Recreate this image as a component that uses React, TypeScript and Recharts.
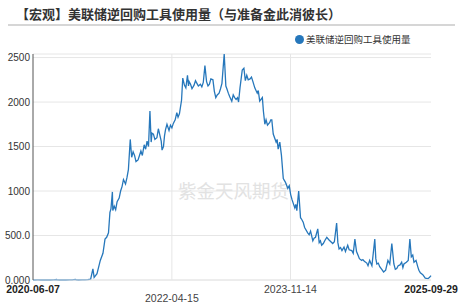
import { CartesianGrid, Line, LineChart, ReferenceLine, XAxis, YAxis } from "recharts";

const FONT = 'Arial, "Liberation Sans", "Noto Sans CJK SC", sans-serif';
const BLUE = "#2677bb";

const title = "【宏观】美联储逆回购工具使用量（与准备金此消彼长）";
const seriesName = "美联储逆回购工具使用量";
const watermark = "紫金天风期货";

// one row per month in both arrays
const dates = [
  "2020-06-07", "2020-06-15",
  "2020-07-01", "2020-07-15",
  "2020-08-01", "2020-08-15",
  "2020-09-01", "2020-09-15", "2020-09-30",
  "2020-10-01", "2020-10-15",
  "2020-11-01", "2020-11-15",
  "2020-12-01", "2020-12-15", "2020-12-31",
  "2021-01-04", "2021-01-15",
  "2021-02-01", "2021-02-15",
  "2021-03-01", "2021-03-15", "2021-03-26",
  "2021-04-01", "2021-04-15",
  "2021-05-01", "2021-05-14", "2021-05-24",
  "2021-06-01", "2021-06-10", "2021-06-17", "2021-06-22", "2021-06-29",
  "2021-07-01", "2021-07-08", "2021-07-15", "2021-07-22",
  "2021-08-01", "2021-08-08", "2021-08-15", "2021-08-22",
  "2021-09-01", "2021-09-08", "2021-09-15", "2021-09-24",
  "2021-10-01", "2021-10-08", "2021-10-15", "2021-10-22",
  "2021-11-01", "2021-11-08", "2021-11-15", "2021-11-22",
  "2021-12-01", "2021-12-08", "2021-12-15", "2021-12-22", "2021-12-29",
  "2022-01-04", "2022-01-08", "2022-01-15", "2022-01-22",
  "2022-02-01", "2022-02-08", "2022-02-15", "2022-02-22", "2022-02-26",
  "2022-03-05", "2022-03-10", "2022-03-15", "2022-03-22",
  "2022-04-01", "2022-04-08", "2022-04-15", "2022-04-22",
  "2022-05-01", "2022-05-09", "2022-05-15", "2022-05-22",
  "2022-06-01", "2022-06-07", "2022-06-15", "2022-06-22", "2022-06-30",
  "2022-07-05", "2022-07-08", "2022-07-15", "2022-07-22",
  "2022-08-01", "2022-08-08", "2022-08-15", "2022-08-22",
  "2022-09-01", "2022-09-08", "2022-09-15", "2022-09-23",
  "2022-10-01", "2022-10-08", "2022-10-15", "2022-10-22",
  "2022-11-01", "2022-11-08", "2022-11-15", "2022-11-22",
  "2022-12-01", "2022-12-08", "2022-12-15", "2022-12-26",
  "2023-01-03", "2023-01-08", "2023-01-15", "2023-01-22",
  "2023-02-01", "2023-02-08", "2023-02-15", "2023-02-22",
  "2023-03-01", "2023-03-06", "2023-03-13", "2023-03-24",
  "2023-04-01", "2023-04-08", "2023-04-15", "2023-04-22",
  "2023-05-01", "2023-05-08", "2023-05-15", "2023-05-24",
  "2023-06-05", "2023-06-10", "2023-06-17", "2023-06-30",
  "2023-07-05", "2023-07-12", "2023-07-18", "2023-07-25",
  "2023-08-05", "2023-08-10", "2023-08-15", "2023-08-22",
  "2023-09-05", "2023-09-10", "2023-09-15", "2023-09-23",
  "2023-10-01", "2023-10-10", "2023-10-20",
  "2023-11-01", "2023-11-08", "2023-11-15", "2023-11-22",
  "2023-12-05", "2023-12-10", "2023-12-15", "2023-12-24",
  "2024-01-02", "2024-01-08", "2024-01-15", "2024-01-22",
  "2024-02-06", "2024-02-13", "2024-02-20",
  "2024-03-02", "2024-03-08", "2024-03-15", "2024-03-26",
  "2024-04-02", "2024-04-08", "2024-04-14", "2024-04-22",
  "2024-05-01", "2024-05-09", "2024-05-20",
  "2024-06-07", "2024-06-15", "2024-06-26",
  "2024-07-02", "2024-07-08", "2024-07-15", "2024-07-22",
  "2024-08-01", "2024-08-08", "2024-08-19", "2024-08-26",
  "2024-09-08", "2024-09-15", "2024-09-23",
  "2024-10-01", "2024-10-08", "2024-10-15", "2024-10-26",
  "2024-11-01", "2024-11-08", "2024-11-20", "2024-11-26",
  "2024-12-04", "2024-12-15", "2024-12-29",
  "2025-01-03", "2025-01-08", "2025-01-15", "2025-01-22",
  "2025-02-01", "2025-02-10", "2025-02-20",
  "2025-03-03", "2025-03-12", "2025-03-22",
  "2025-04-01", "2025-04-08", "2025-04-15", "2025-04-22",
  "2025-05-01", "2025-05-09", "2025-05-15", "2025-05-20",
  "2025-06-01", "2025-06-10", "2025-06-18", "2025-06-25",
  "2025-07-02", "2025-07-08", "2025-07-18", "2025-07-27",
  "2025-08-01", "2025-08-08", "2025-08-20",
  "2025-09-01", "2025-09-15", "2025-09-22", "2025-09-29",
];

const values = [
  0, 0.2,
  0.5, 0.2,
  0, 0.1,
  0, 0.3, 5,
  0.5, 0,
  0.2, 0,
  1, 0.5, 6,
  0.5, 0.2,
  1, 2,
  4, 10, 125,
  30, 70,
  220, 300, 460,
  480, 530, 760, 800, 990,
  780, 830, 790, 880,
  920, 1000, 1050, 1130,
  1080, 1150, 1240, 1580,
  1380, 1440, 1400, 1330,
  1350, 1400, 1450, 1400,
  1520, 1470, 1560, 1500, 1900,
  1550, 1650, 1640, 1580,
  1600, 1700, 1630, 1560, 1460,
  1500, 1620, 1690, 1750,
  1680, 1740, 1710, 1760,
  1800, 1880, 1830, 1870,
  2020, 2270, 2190, 2160, 2300,
  2180, 2230, 2200, 2150,
  2190, 2240, 2210, 2180,
  2200, 2170, 2220, 2410,
  2230, 2180, 2200, 2260,
  2250, 2120, 2050, 2080,
  2100, 2150, 2210, 2540,
  2180, 2150, 2100, 2060,
  2010, 2080, 2050, 2030,
  2050, 2000, 2160, 2360,
  2380, 2240, 2300, 2250,
  2260, 2280, 2230, 2160,
  2100, 2130, 2010, 2050,
  1900, 1750, 1800, 1740,
  1770, 1800, 1800, 1640,
  1550, 1580, 1470, 1550,
  1400, 1140, 1100,
  1030, 1060, 960, 900,
  810, 850, 780, 1000,
  700, 680, 650, 590,
  530, 510, 550,
  440, 470, 480, 575,
  420, 440, 390, 410,
  450, 480, 450,
  410, 430, 640,
  420, 350, 365, 330,
  370, 320, 390, 340,
  330, 300, 460,
  320, 280, 240, 220,
  230, 210, 190, 160,
  220, 160, 460,
  240, 180, 190, 150,
  120, 90, 110,
  220, 180, 410,
  180, 120, 130, 160,
  170, 200, 140, 180,
  200, 220, 460, 260,
  280, 200, 220, 145,
  110, 80, 60,
  20, 15, 30, 50,
];

const yTicks = [0, 500, 1000, 1500, 2000, 2500];
const xTickDates = ["2020-06-07", "2022-04-15", "2023-11-14", "2025-09-29"];
const gridDates = ["2022-04-15", "2023-11-14"];

const data = dates.map((d, i) => ({ t: Date.parse(d), value: values[i] }));
const xTicks = xTickDates.map((d) => Date.parse(d));
const xStart = xTicks[0];
const xEnd = xTicks[xTicks.length - 1];

function fmtDate(t: number) {
  return new Date(t).toISOString().slice(0, 10);
}

function DateTick(props: any) {
  const { x, y, payload, index } = props;
  const edge = payload.value === xStart || payload.value === xEnd;
  const lower = index === 1;
  return (
    <text
      x={x}
      y={y + (lower ? 14 : 5)}
      textAnchor="middle"
      fontSize={10.5}
      fontFamily={FONT}
      fontWeight={edge ? 700 : 400}
      fill={edge ? "#222" : "#444"}
    >
      {fmtDate(payload.value)}
    </text>
  );
}

export default function App() {
  return (
    <div
      style={{
        position: "absolute",
        left: 0,
        top: 0,
        width: 460,
        height: 308,
        background: "#fff",
        fontFamily: FONT,
        overflow: "hidden",
      }}
    >
      <div
        style={{
          position: "absolute",
          left: 16,
          top: 4,
          fontSize: 13,
          fontWeight: 700,
          color: "#333",
          whiteSpace: "nowrap",
        }}
      >
        {title}
      </div>
      <div
        style={{ position: "absolute", left: 8, top: 24, width: 447, height: 2, background: "#d6d6d6" }}
      />
      <div
        style={{
          position: "absolute",
          left: 295,
          top: 32,
          display: "flex",
          alignItems: "center",
          fontSize: 9.5,
          color: "#333",
          whiteSpace: "nowrap",
        }}
      >
        <span
          style={{ width: 9, height: 9, borderRadius: "50%", background: BLUE, marginRight: 2 }}
        />
        {seriesName}
      </div>
      <div
        style={{
          position: "absolute",
          left: 178,
          top: 177,
          fontSize: 18.5,
          color: "#e2e2e2",
          whiteSpace: "nowrap",
          fontFamily: '"Noto Sans CJK SC", sans-serif',
        }}
      >
        {watermark}
      </div>
      <div style={{ position: "absolute", left: 0, top: 0 }}>
        <LineChart width={460} height={308} data={data} margin={{ top: 54, right: 29, left: 0, bottom: 0 }}>
          <CartesianGrid vertical={false} stroke="#e6e6e6" />
          {gridDates.map((d) => (
            <ReferenceLine key={d} x={Date.parse(d)} stroke="#e6e6e6" />
          ))}
          <XAxis
            dataKey="t"
            type="number"
            domain={[xStart, xEnd]}
            ticks={xTicks}
            height={28}
            tickLine={false}
            axisLine={{ stroke: "#e6e6e6" }}
            tick={<DateTick />}
            interval={0}
          />
          <YAxis
            domain={[0, 2500]}
            ticks={yTicks}
            width={33}
            tickLine={false}
            tickSize={0}
            tickMargin={3}
            axisLine={{ stroke: "#555" }}
            tickFormatter={(v: number) => v.toPrecision(4)}
            tick={{ fontSize: 10, fill: "#333", fontFamily: FONT }}
          />
          <Line
            type="linear"
            dataKey="value"
            stroke={BLUE}
            strokeWidth={1.3}
            dot={false}
            isAnimationActive={false}
          />
        </LineChart>
      </div>
    </div>
  );
}
